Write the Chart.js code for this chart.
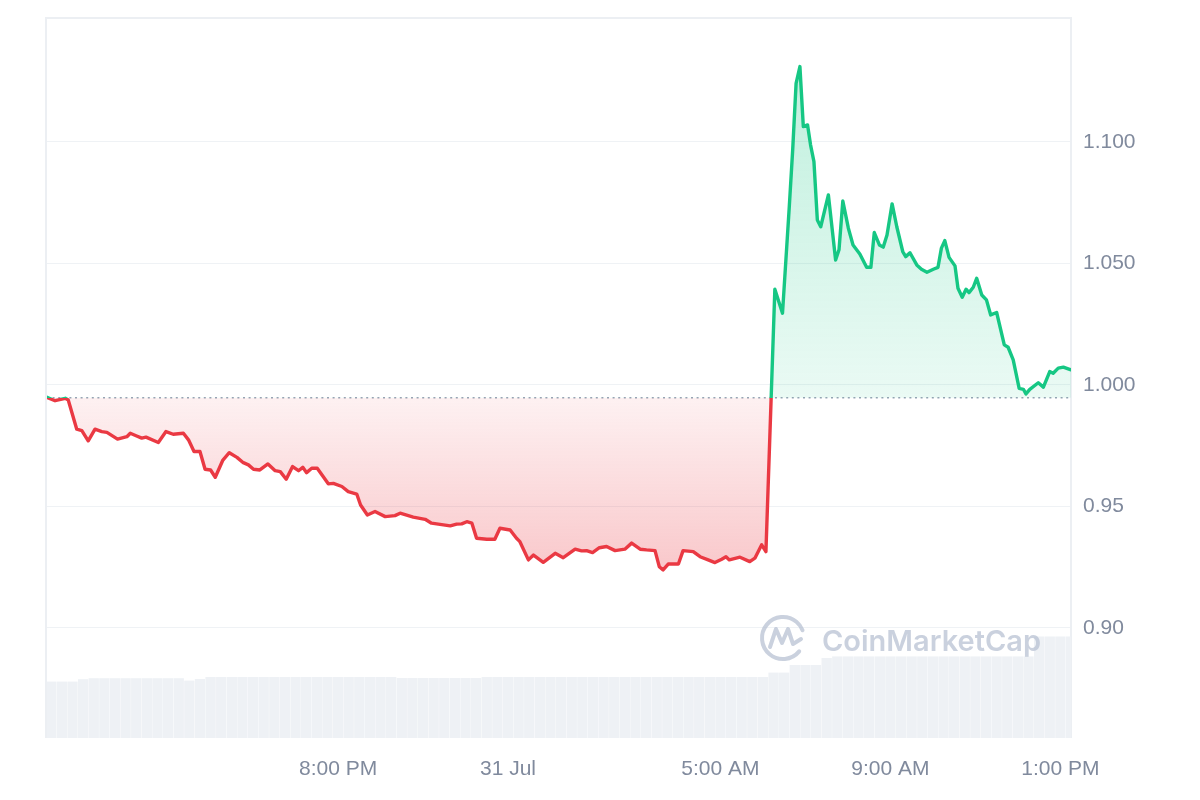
<!DOCTYPE html>
<html>
<head>
<meta charset="utf-8">
<script src="https://cdn.jsdelivr.net/npm/chart.js@4.4.1/dist/chart.umd.min.js"></script>
<style>
  html, body { margin: 0; padding: 0; background: #fff; }
  #wrap { width: 1200px; height: 800px; }
</style>
</head>
<body>
<div id="wrap"><canvas id="price-chart" width="1200" height="800"></canvas></div>
<script>
// Price, 30 Jul 13:09 -> 31 Jul 13:15 (hours counted from 30 Jul 00:00)
const priceHours = [
  13.15, 13.34, 13.58, 13.65, 13.85, 13.97, 14.12, 14.28, 14.44, 14.56,
  14.81, 15.03, 15.11, 15.26, 15.38, 15.48, 15.77, 15.95, 16.12, 16.36,
  16.48, 16.61, 16.75, 16.87, 17.00, 17.11, 17.29, 17.44, 17.62, 17.77,
  17.89, 18.01, 18.16, 18.35, 18.52, 18.64, 18.78, 18.93, 19.07, 19.17,
  19.26, 19.38, 19.51, 19.77, 19.89, 20.09, 20.24, 20.44, 20.53, 20.69,
  20.87, 21.11, 21.34, 21.46, 21.77, 22.05, 22.20, 22.48, 22.64, 22.79,
  22.91, 23.03, 23.15, 23.26, 23.50, 23.69, 23.81, 24.05, 24.20, 24.28,
  24.48, 24.60, 24.83, 25.11, 25.30, 25.58, 25.73, 25.85, 25.99, 26.15,
  26.32, 26.52, 26.75, 26.91, 27.11, 27.26, 27.46, 27.56, 27.65, 27.77,
  28.01, 28.12, 28.36, 28.52, 28.71, 28.87, 29.03, 29.13, 29.21, 29.46,
  29.69, 29.81, 29.97, 30.07, 30.28, 30.46, 30.62, 30.70, 30.78, 30.87,
  30.95, 31.05, 31.12, 31.20, 31.28, 31.36, 31.54, 31.71, 31.79, 31.88,
  32.01, 32.12, 32.28, 32.44, 32.54, 32.62, 32.74, 32.83, 32.92, 33.04,
  33.15, 33.29, 33.36, 33.46, 33.62, 33.73, 33.86, 34.01, 34.12, 34.20,
  34.28, 34.38, 34.52, 34.59, 34.69, 34.78, 34.85, 34.95, 35.03, 35.15,
  35.26, 35.36, 35.50, 35.68, 35.77, 35.89, 36.03, 36.13, 36.19, 36.28,
  36.48, 36.60, 36.75, 36.83, 36.95, 37.07, 37.20, 37.25
];
const prices = [
  0.9949, 0.9935, 0.9945, 0.9938, 0.9818, 0.9812, 0.9770, 0.9818, 0.9808, 0.9805,
  0.9777, 0.9787, 0.9801, 0.9790, 0.9781, 0.9785, 0.9763, 0.9808, 0.9797, 0.9801,
  0.9774, 0.9726, 0.9726, 0.9653, 0.9650, 0.9620, 0.9691, 0.9721, 0.9702, 0.9680,
  0.9671, 0.9653, 0.9650, 0.9675, 0.9647, 0.9643, 0.9612, 0.9664, 0.9647, 0.9661,
  0.9639, 0.9657, 0.9657, 0.9593, 0.9595, 0.9582, 0.9561, 0.9551, 0.9506, 0.9465,
  0.9479, 0.9458, 0.9462, 0.9472, 0.9456, 0.9447, 0.9431, 0.9424, 0.9420, 0.9427,
  0.9428, 0.9437, 0.9431, 0.9369, 0.9365, 0.9365, 0.9410, 0.9403, 0.9369, 0.9355,
  0.9280, 0.9300, 0.9270, 0.9307, 0.9289, 0.9324, 0.9317, 0.9318, 0.9310, 0.9330,
  0.9335, 0.9318, 0.9324, 0.9349, 0.9324, 0.9321, 0.9318, 0.9252, 0.9239, 0.9263,
  0.9263, 0.9318, 0.9314, 0.9293, 0.9280, 0.9269, 0.9283, 0.9293, 0.9280, 0.9291,
  0.9273, 0.9287, 0.9342, 0.9314, 1.0394, 1.0295, 1.0734, 1.0967, 1.1241, 1.1310,
  1.1063, 1.1070, 1.0988, 1.0919, 1.0679, 1.0651, 1.0782, 1.0514, 1.0556, 1.0757,
  1.0645, 1.0576, 1.0539, 1.0484, 1.0484, 1.0627, 1.0576, 1.0567, 1.0617, 1.0745,
  1.0651, 1.0549, 1.0528, 1.0544, 1.0494, 1.0476, 1.0464, 1.0476, 1.0484, 1.0563,
  1.0594, 1.0525, 1.0490, 1.0398, 1.0361, 1.0394, 1.0380, 1.0402, 1.0439, 1.0370,
  1.0350, 1.0288, 1.0298, 1.0165, 1.0155, 1.0103, 0.9986, 0.9982, 0.9963, 0.9982,
  1.0009, 0.9991, 1.0055, 1.0048, 1.0069, 1.0073, 1.0065, 1.0062
];
const openPrice = 0.9947;

// Volume (M), one bar every 15 min from 13:15
const volumeStart = 13.25;
const volumeStep = 0.25;
const volumes = [
  2.82, 2.82, 2.82, 2.94, 2.99, 2.99, 2.99, 2.99, 2.99, 2.99,
  2.99, 2.99, 2.99, 2.87, 2.95, 3.05, 3.05, 3.05, 3.05, 3.05,
  3.05, 3.05, 3.05, 3.05, 3.05, 3.05, 3.05, 3.05, 3.05, 3.05,
  3.05, 3.05, 3.05, 3.00, 3.00, 3.00, 3.00, 3.00, 3.00, 3.00,
  3.00, 3.05, 3.05, 3.05, 3.05, 3.05, 3.05, 3.05, 3.05, 3.05,
  3.05, 3.05, 3.05, 3.05, 3.05, 3.05, 3.05, 3.05, 3.05, 3.05,
  3.05, 3.05, 3.05, 3.05, 3.05, 3.05, 3.05, 3.05, 3.27, 3.27,
  3.65, 3.65, 3.65, 4.00, 4.08, 4.08, 4.08, 4.08, 4.08, 4.08,
  4.08, 4.08, 4.08, 4.08, 4.08, 4.08, 4.08, 4.08, 4.08, 4.08,
  4.08, 4.08, 4.08, 5.07, 5.07, 5.07, 5.07
];

const xTickHours = [20, 24, 29, 33, 37];
const xTickLabels = ['8:00 PM', '31 Jul', '5:00 AM', '9:00 AM', '1:00 PM'];
const yTickValues = [0.90, 0.95, 1.00, 1.05, 1.10];
const yTickLabels = ['0.90', '0.95', '1.000', '1.050', '1.100'];

const X_MIN = 13.15, X_MAX = 37.25;
const Y_MIN = 0.8547, Y_MAX = 1.151;
const VOL_MAX = 36;

const UP = '#16c784';
const DOWN = '#ea3943';
const TICK_COLOR = '#808a9d';
const TICK_FONT = { family: 'Arial, "Liberation Sans", sans-serif', size: 21 };

// line colour flips at the open price
function priceStroke(context) {
  const { ctx, chartArea, scales } = context.chart;
  if (!chartArea || !scales.y) return UP;
  const base = scales.y.getPixelForValue(openPrice);
  const f = Math.min(1, Math.max(0, (base - chartArea.top) / (chartArea.bottom - chartArea.top)));
  const g = ctx.createLinearGradient(0, chartArea.top, 0, chartArea.bottom);
  g.addColorStop(0, UP); g.addColorStop(f, UP);
  g.addColorStop(f, DOWN); g.addColorStop(1, DOWN);
  return g;
}

function priceFill(context) {
  const { ctx, chartArea, scales } = context.chart;
  if (!chartArea || !scales.y) return 'transparent';
  const y = scales.y;
  const top = y.getPixelForValue(Math.max(...prices));
  const bottom = y.getPixelForValue(Math.min(...prices));
  const base = y.getPixelForValue(openPrice);
  const f = (base - top) / (bottom - top);
  const g = ctx.createLinearGradient(0, top, 0, bottom);
  g.addColorStop(0, 'rgba(22,199,132,0.27)');
  g.addColorStop(f, 'rgba(22,199,132,0.09)');
  g.addColorStop(f, 'rgba(234,57,67,0.07)');
  g.addColorStop(1, 'rgba(234,57,67,0.28)');
  return g;
}

// no extra room for the outer tick labels, keep the plot box fixed
function noPadding(axis) {
  axis.paddingTop = 0; axis.paddingBottom = 0;
  axis.paddingLeft = 0; axis.paddingRight = 0;
}

const framePlugin = {
  id: 'frame',
  beforeDatasetsDraw(chart) {
    const { ctx, chartArea: a } = chart;
    ctx.save();
    ctx.strokeStyle = '#eceff3';
    ctx.lineWidth = 2;
    ctx.beginPath();
    ctx.moveTo(a.left - 1, a.bottom);
    ctx.lineTo(a.left - 1, a.top);
    ctx.lineTo(a.right, a.top);
    ctx.lineTo(a.right, a.bottom);
    ctx.stroke();
    ctx.restore();
  }
};

const watermarkPlugin = {
  id: 'watermark',
  afterDatasetsDraw(chart) {
    const { ctx, chartArea: a } = chart;
    const cx = a.right - 288, cy = a.bottom - 100;
    ctx.save();
    ctx.strokeStyle = 'rgba(180,190,208,0.7)';
    ctx.fillStyle = 'rgba(180,190,208,0.7)';
    ctx.lineWidth = 4;
    ctx.lineCap = 'round';
    ctx.lineJoin = 'round';
    ctx.beginPath();
    ctx.arc(cx, cy, 21, 0.22 * Math.PI, 1.88 * Math.PI);
    ctx.stroke();
    ctx.beginPath();
    ctx.moveTo(cx - 13, cy + 9);
    ctx.lineTo(cx - 7, cy - 9);
    ctx.lineTo(cx - 1, cy + 5);
    ctx.lineTo(cx + 5, cy - 9);
    ctx.lineTo(cx + 10, cy + 6);
    ctx.lineTo(cx + 18, cy + 1);
    ctx.stroke();
    ctx.font = '600 29px Inter, "Noto Sans", sans-serif';
    ctx.textBaseline = 'alphabetic';
    ctx.fillText('CoinMarketCap', a.right - 249, a.bottom - 87);
    ctx.restore();
  }
};

new Chart(document.getElementById('price-chart'), {
  type: 'line',
  data: {
    datasets: [
      {
        label: 'Price',
        data: priceHours.map((h, i) => ({ x: h, y: prices[i] })),
        borderColor: priceStroke,
        backgroundColor: priceFill,
        borderWidth: 3.4,
        borderJoinStyle: 'round',
        borderCapStyle: 'round',
        pointRadius: 0,
        tension: 0,
        fill: { value: openPrice },
        order: 1,
      },
      {
        label: 'Open',
        data: [{ x: X_MIN, y: openPrice }, { x: X_MAX, y: openPrice }],
        borderColor: '#9aa3b5',
        borderWidth: 1.6,
        borderDash: [2, 3.6],
        pointRadius: 0,
        fill: false,
        order: 2,
      },
      {
        type: 'bar',
        label: 'Volume',
        data: volumes.map((v, i) => ({ x: volumeStart + i * volumeStep, y: v })),
        yAxisID: 'y2',
        backgroundColor: '#eef1f5',
        barPercentage: 0.97,
        categoryPercentage: 1,
        order: 3,
      },
    ],
  },
  options: {
    responsive: false,
    animation: false,
    layout: { padding: { left: 47, top: 18, right: 0, bottom: 0 } },
    plugins: { legend: { display: false }, tooltip: { enabled: false } },
    scales: {
      x: {
        type: 'linear',
        offset: false,
        min: X_MIN, max: X_MAX,
        grid: { display: false },
        border: { display: false },
        afterBuildTicks: axis => { axis.ticks = xTickHours.map(v => ({ value: v })); },
        afterFit: axis => { axis.height = 62; noPadding(axis); },
        ticks: {
          autoSkip: false, maxRotation: 0, padding: 11,
          color: TICK_COLOR, font: TICK_FONT,
          callback: (v) => xTickLabels[xTickHours.indexOf(v)],
        },
      },
      y: {
        position: 'right',
        min: Y_MIN, max: Y_MAX,
        grid: { color: '#eff2f5', lineWidth: 1, drawTicks: false },
        border: { display: false },
        afterBuildTicks: axis => { axis.ticks = yTickValues.map(v => ({ value: v })); },
        afterFit: axis => { axis.width = 129; noPadding(axis); },
        ticks: {
          padding: 12, color: TICK_COLOR, font: TICK_FONT,
          callback: (v) => yTickLabels[yTickValues.findIndex(t => Math.abs(t - v) < 1e-9)],
        },
      },
      y2: {
        display: false,
        min: 0, max: VOL_MAX,
      },
    },
  },
  plugins: [framePlugin, watermarkPlugin],
});
</script>
</body>
</html>
